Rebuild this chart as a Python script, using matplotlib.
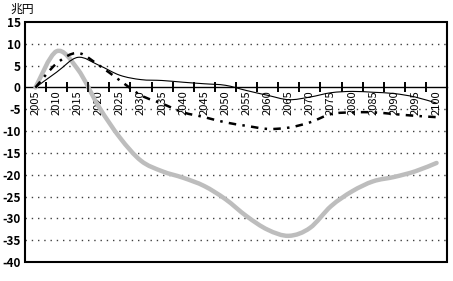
import matplotlib
matplotlib.use("Agg")
import matplotlib.pyplot as plt
from matplotlib.path import Path
from matplotlib.patches import PathPatch, Rectangle
from matplotlib.ticker import FixedLocator, FixedFormatter, NullFormatter

plt.rcParams["font.family"] = ["Noto Sans CJK JP", "DejaVu Sans"]

years = list(range(2005, 2101, 5))

# 兆円
solid_line = [0, 3.5, 6.9, 5.1, 2.8, 1.8, 1.6, 1.2, 0.85, 0.5,
              -0.7, -1.8, -2.8, -2.2, -1.2, -0.9, -1.1, -1.4, -2.2, -3.6]
dashed_line = [0, 5.5, 7.9, 5.1, 1.6, -1.8, -3.7, -5.7, -6.8, -8.0,
               -8.8, -9.5, -9.2, -8.0, -6.1, -5.7, -5.7, -6.1, -6.5, -6.8]
gray_line = [0, 8.3, 4.2, -4.4, -11.5, -16.8, -19.2, -20.7, -22.6, -25.6,
             -29.5, -32.6, -34.0, -32.2, -27.2, -23.8, -21.5, -20.5, -19.2, -17.3]

y_ticks = list(range(-40, 16, 5))


def smooth_path(xs, ys):
    """Excel-style smoothed line: Catmull-Rom through the points as cubic Beziers."""
    pts = list(zip(xs, ys))
    n = len(pts)
    verts = [pts[0]]
    codes = [Path.MOVETO]
    for i in range(n - 1):
        p0 = pts[i - 1] if i > 0 else pts[i]
        p1, p2 = pts[i], pts[i + 1]
        p3 = pts[i + 2] if i + 2 < n else pts[i + 1]
        c1 = (p1[0] + (p2[0] - p0[0]) / 6, p1[1] + (p2[1] - p0[1]) / 6)
        c2 = (p2[0] - (p3[0] - p1[0]) / 6, p2[1] - (p3[1] - p1[1]) / 6)
        verts += [c1, c2, p2]
        codes += [Path.CURVE4] * 3
    return Path(verts, codes)


def main():
    fig = plt.figure(figsize=(4.53, 2.81), dpi=100)
    ax = fig.add_axes([0.055, 0.0676, 0.932, 0.854])

    # dotted horizontal grid
    for v in y_ticks:
        if v in (-40, 0, 15):
            continue
        ax.axhline(v, color="0.25", lw=1.0, linestyle=(0, (1, 3.5)), zorder=1)

    ax.add_patch(PathPatch(smooth_path(years, gray_line), fill=False,
                           edgecolor="#bdbdbd", lw=3.2, capstyle="round",
                           joinstyle="round", zorder=3))
    ax.add_patch(PathPatch(smooth_path(years, dashed_line), fill=False,
                           edgecolor="black", lw=1.8,
                           linestyle=(0, (3, 2.5, 1, 2.5)), zorder=4))
    ax.add_patch(PathPatch(smooth_path(years, solid_line), fill=False,
                           edgecolor="black", lw=0.8, zorder=5))

    ax.set_xlim(2002.5, 2102.5)
    ax.set_ylim(-40, 15)
    ax.set_yticks(y_ticks)
    ax.set_yticklabels([f"{v}" for v in y_ticks], fontsize=8.5,
                       fontweight="bold")
    ax.tick_params(axis="y", length=0, pad=3)

    # outer frame, and the category axis riding on the zero line
    ax.add_patch(Rectangle((0, 0), 1, 1, transform=ax.transAxes, fill=False,
                           edgecolor="black", lw=1.5, zorder=6,
                           clip_on=False))
    for side in ("top", "right", "left"):
        ax.spines[side].set_visible(False)
    ax.spines["bottom"].set_position(("data", 0))
    ax.spines["bottom"].set_linewidth(1.0)

    # category boundaries sit halfway between the 5-year categories
    bounds = [years[0] - 2.5] + [y + 2.5 for y in years]
    ax.xaxis.set_major_locator(FixedLocator(bounds))
    ax.xaxis.set_major_formatter(NullFormatter())
    ax.xaxis.set_minor_locator(FixedLocator(years))
    ax.xaxis.set_minor_formatter(FixedFormatter([str(y) for y in years]))
    ax.tick_params(axis="x", which="major", length=7, width=1.2,
                   direction="inout")
    ax.tick_params(axis="x", which="minor", length=0, pad=2,
                   labelrotation=90, labelsize=8)
    # explicit tick marks on the zero line
    ax.plot(bounds, [0] * len(bounds), linestyle="none", marker="|",
            markersize=7, markeredgewidth=1.2, color="black", zorder=6)

    fig.text(0.022, 0.99, "兆円", fontsize=8.5, va="top", ha="left")

    fig.savefig("out.png", dpi=100)
    plt.close(fig)


if __name__ == "__main__":
    main()
